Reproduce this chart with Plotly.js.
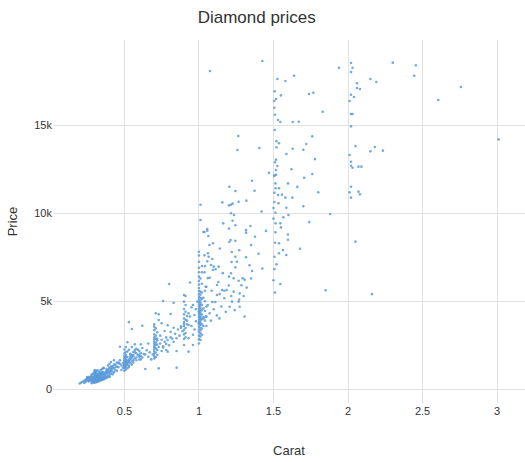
<!DOCTYPE html>
<html>
<head>
<meta charset="utf-8">
<script src="https://cdn.plot.ly/plotly-3.0.1.min.js"></script>
<style>html,body{margin:0;padding:0;background:#fff;}#chart{width:525px;height:462px;}</style>
</head>
<body>
<div id="chart"></div>
<script>
// Small stones (0.2 - 0.47 ct)
const caratSmall = [
0.23,0.23,0.24,0.24,0.25,0.25,0.26,0.26,0.27,0.27,
0.28,0.28,0.28,0.29,0.29,0.29,0.30,0.30,0.30,0.30,
0.30,0.30,0.30,0.31,0.31,0.31,0.31,0.31,0.31,0.32,
0.32,0.32,0.32,0.32,0.33,0.33,0.33,0.33,0.34,0.34,
0.34,0.35,0.35,0.35,0.36,0.36,0.36,0.37,0.37,0.38,
0.38,0.38,0.39,0.39,0.40,0.40,0.40,0.41,0.41,0.42,
0.42,0.43,0.43,0.44,0.45,0.46,0.20,0.21,0.22,0.25,
0.26,0.27,0.28,0.29,0.30,0.31,0.32,0.33,0.34,0.35,
0.30,0.31,0.32,0.30,0.31,0.32,0.33,0.30,0.31,0.34,
0.36,0.37,0.38,0.39,0.40,0.41,0.42,0.43,0.44,0.45,
0.35,0.36,0.37,0.33,0.32,0.31,0.30,0.29,0.28,0.27,
0.26,0.32,0.33,0.34,0.35,0.38,0.40,0.41,0.42,0.47];
const priceSmall = [
370,480,410,560,520,620,450,700,560,640,
480,620,780,420,530,690,420,510,580,650,
720,840,930,470,560,610,680,760,880,520,
590,650,740,860,540,630,700,820,580,690,
800,610,720,900,650,780,980,700,840,720,
880,1060,780,960,760,870,1040,900,1130,850,
1010,960,1180,1080,1050,1260,330,380,430,590,
500,600,700,560,600,700,800,880,920,800,
470,530,590,760,650,690,760,980,1020,860,
1200,900,1000,1110,1240,1300,1180,1400,1250,1520,
560,600,640,660,470,420,450,640,530,480,
560,700,760,740,680,950,980,1050,1320,1650];
const caratSmall2 = [
0.30,0.30,0.30,0.31,0.31,0.31,0.32,0.32,0.33,0.33,
0.34,0.34,0.35,0.35,0.36,0.36,0.37,0.38,0.39,0.40,
0.28,0.29,0.30,0.31,0.32,0.33,0.30,0.31,0.32,0.34,
0.36,0.38,0.40,0.42,0.44,0.45,0.46,0.41,0.43,0.39,
0.27,0.28,0.29,0.30,0.31,0.32,0.26,0.25,0.24,0.33,
0.35,0.37,0.34,0.36,0.38,0.30,0.31,0.32,0.35,0.40];
const priceSmall2 = [
380,1000,1100,400,1050,950,430,1080,460,1000,
500,1100,530,1150,560,1220,620,640,700,700,
350,380,520,600,620,650,860,820,800,950,
880,1150,1450,1250,1400,1300,1500,1550,1650,1350,
700,840,900,660,720,780,620,700,500,560,
650,750,880,900,980,550,500,570,1000,1180];

// Half-carat stones (0.46 - 0.66 ct)
const caratHalf = [
0.50,0.50,0.50,0.50,0.50,0.50,0.50,0.50,0.50,0.50,
0.51,0.51,0.51,0.51,0.51,0.51,0.51,0.51,0.52,0.52,
0.52,0.52,0.52,0.53,0.53,0.53,0.54,0.54,0.54,0.55,
0.55,0.56,0.56,0.56,0.57,0.57,0.58,0.58,0.59,0.60,
0.60,0.61,0.61,0.62,0.63,0.64,0.65,0.66,0.47,0.48,
0.48,0.49,0.49,0.46,0.47,0.53,0.55,0.57,0.61,0.64,
0.50,0.51,0.52,0.54,0.56,0.58,0.60,0.62,0.55,0.53,
0.50,0.50,0.51,0.52,0.53,0.54,0.55,0.56,0.57,0.58,
0.59,0.60,0.61,0.62,0.50,0.51,0.52,0.53,0.54,0.55];
const priceHalf = [
1050,1180,1290,1420,1510,1630,1740,1900,2050,2260,
1120,1250,1380,1560,1700,1850,2120,2400,1200,1460,
1620,1830,2670,1340,1690,3820,1480,1760,2010,1590,
1930,1660,1880,2120,1750,2240,1810,2050,1940,1690,
2170,1880,2560,3610,2000,1150,2220,2600,1450,1100,
1350,1230,1480,1500,2420,1560,3430,2560,1700,1980,
1330,1580,1380,1870,1520,2300,1960,1810,2400,1270,
1350,1800,1450,1550,1600,1700,1400,1950,2100,1650,
2250,1850,2050,2350,1600,1950,2150,2250,2000,1800];

// 0.7 ct group (0.66 - 0.88 ct)
const caratSeven = [
0.70,0.70,0.70,0.70,0.70,0.70,0.70,0.70,0.70,0.70,
0.70,0.70,0.70,0.70,0.71,0.71,0.71,0.71,0.71,0.71,
0.71,0.71,0.72,0.72,0.72,0.72,0.72,0.73,0.73,0.73,
0.74,0.74,0.75,0.75,0.76,0.76,0.77,0.77,0.78,0.78,
0.79,0.79,0.80,0.80,0.81,0.81,0.82,0.83,0.83,0.84,
0.85,0.85,0.86,0.87,0.88,0.69,0.68,0.66,0.67,0.73,
0.71,0.70,0.72,0.76,0.79,0.81,0.83,0.85,0.78,0.75];
const priceSeven = [
1750,1880,2010,2140,2260,2380,2470,2590,2700,2830,
2950,3120,3360,3700,1820,2090,2330,2520,2650,2880,
3050,3460,1950,2240,2550,2780,3240,1190,2400,4260,
2600,3050,2180,3750,2450,5020,2700,3310,2230,2950,
2140,2800,2500,5980,3270,4280,2880,2700,4920,3150,
2180,2900,3400,3050,3580,1980,1700,1850,2100,3940,
4320,3560,2870,2370,3640,2960,3500,1230,2580,2820];

// 0.9 ct group
const caratNine = [
0.90,0.90,0.90,0.90,0.90,0.90,0.90,0.90,0.90,0.90,
0.90,0.91,0.91,0.91,0.91,0.91,0.91,0.92,0.92,0.93,
0.93,0.94,0.95,0.96,0.97,0.98,0.94,0.96,0.98,0.99,
0.89,0.88,0.91,0.92,0.93,0.95,0.97,0.96,0.90,0.93];
const priceNine = [
2520,2860,3120,3380,3600,3820,4020,4260,4560,4980,
5360,2950,3480,3950,4410,4790,5300,3700,4160,2140,
4320,4130,4660,2520,4220,4550,6070,4790,3860,4980,
3300,3500,3200,3900,2900,3600,3400,3100,3720,3650];

// 1 ct group
const caratOne = [
1.00,1.00,1.00,1.00,1.00,1.00,1.00,1.00,1.00,1.00,
1.00,1.00,1.00,1.00,1.00,1.00,1.00,1.00,1.00,1.00,
1.00,1.00,1.00,1.00,1.00,1.00,1.00,1.00,1.00,1.00,
1.01,1.01,1.01,1.01,1.01,1.01,1.01,1.01,1.01,1.01,
1.01,1.01,1.01,1.01,1.01,1.01,1.01,1.01,1.01,1.01,
1.02,1.02,1.02,1.02,1.02,1.02,1.02,1.02,1.02,1.02,
1.03,1.03,1.03,1.03,1.04,1.04,1.04,1.05,1.05,1.05,
1.01,1.02,1.01,1.01,1.03,1.04,1.00,1.01,1.02,1.00];
const priceOne = [
2600,2850,3050,3250,3400,3550,3700,3820,3950,4080,
4200,4330,4450,4580,4700,4820,4950,5100,5250,5400,
5580,5750,5950,6150,6400,6650,6900,7250,7600,7820,
2800,3000,3180,3350,3500,3650,3780,3900,4020,4150,
4280,4400,4530,4650,4780,4900,5050,5200,5380,5550,
3100,3450,3700,3980,4250,4500,4800,5150,5500,6000,
3600,4100,4600,5200,3900,4450,5600,4130,4700,5830,
6300,6650,10490,9620,8940,5000,4400,4050,7000,3750];

// 1.03 - 1.45 ct group
const caratMid = [
1.06,1.065,1.037,1.056,1.081,1.099,1.132,1.112,1.094,1.037,
1.072,1.059,1.045,1.085,1.121,1.139,1.155,1.17,1.186,1.217,
1.202,1.215,1.233,1.244,1.244,1.219,1.255,1.293,1.306,1.266,
1.32,1.273,1.306,1.206,1.222,1.266,1.273,1.121,1.17,1.137,
1.099,1.09,1.059,1.11,1.072,1.045,1.031,1.425,1.356,1.339,
1.316,1.285,1.233,1.204,1.244,1.356,1.373,1.157,1.202,1.215,
1.226,1.266,1.318,1.215,1.235,1.163,1.225,1.244,1.202,1.056,
1.056,1.037,1.063,1.094,1.212,1.244,1.204,1.316,1.316,1.345,
1.376,1.264,1.258,1.405,1.074,1.425,1.05,1.08,1.12,1.15,
1.18,1.24,1.27,1.30,1.35,1.20,1.13,1.16,1.27,1.35,
1.40,1.22,1.14,1.09,1.07,1.04];
const priceMid = [
7730,7530,7610,7270,7060,6970,6970,6820,6780,6650,
6340,6320,5830,5600,5930,5410,5640,5600,5640,5300,
6400,6590,6310,6930,7530,7230,7250,6310,6230,6170,
5780,5450,4130,4690,4980,4980,4690,5360,5170,4030,
4550,4960,4790,4960,4320,4130,4030,6860,6720,7050,
7500,5910,5550,11510,11270,11850,11280,10620,10450,10490,
10550,10660,10720,10000,9900,9430,9580,9320,9130,9110,
9010,8940,8710,8300,8480,8440,8370,9050,8900,9280,
8670,14390,13600,13710,18085,18650,3600,3900,4200,4700,
4400,4500,5100,5300,6300,5900,6100,6600,7900,8200,
7700,7800,8000,7400,8200,7000];

// 1.5 ct group
const caratOneHalf = [
1.508,1.517,1.504,1.506,1.508,1.517,1.526,1.517,1.517,1.506,
1.506,1.513,1.514,1.506,1.506,1.513,1.514,1.513,1.51,1.506,
1.506,1.52,1.537,1.546,1.526,1.58,1.638,1.738,1.767,1.83,
1.629,1.669,1.629,1.587,1.72,1.70,1.76,1.778,1.706,1.76,
1.537,1.597,1.531,1.557,1.58,1.626,1.534,1.586,1.566,1.546,
1.597,1.597,1.537,1.564,1.678,1.537,1.586,1.546,1.88,1.85,
1.50,1.51,1.52,1.50,1.50,1.51,1.52,1.55,1.60,1.62,
1.66,1.70,1.74,1.80,1.45,1.42,1.47,1.55,1.53,1.51];
const priceOneHalf = [
16930,16490,16380,16000,14730,13050,12690,12460,12190,12120,
12160,11700,11420,11170,10640,10030,9430,8920,8330,7530,
6830,13750,13980,15190,17630,17520,17820,16780,16850,15770,
15190,15200,13670,13370,13940,13610,14370,13080,12020,12230,
11420,11700,11040,11060,10890,10890,10570,10320,9770,9430,
8800,8500,8300,7910,7990,7730,7630,5980,9960,5630,
6200,5500,7100,9700,10300,12900,14100,9200,9900,12500,
11500,10400,9500,11200,9000,10100,12300,16700,15300,15600];

// 2 ct and larger
const caratLarge = [
1.939,2.02,2.03,2.02,2.06,2.06,2.08,2.02,2.04,2.01,
2.02,2.03,2.02,2.15,2.19,2.05,2.01,2.02,2.02,2.03,
2.07,2.09,2.15,2.18,2.30,2.455,2.444,2.757,2.605,3.01,
2.234,2.02,2.01,2.07,2.08,2.02,2.05,2.16];
const priceLarge = [
18270,18540,18270,18030,17390,17120,17060,16740,16610,16380,
15640,15640,14940,17630,17460,13820,13310,12930,12700,12590,
12650,12650,13520,13770,18560,18410,17820,17180,16440,14200,
13560,11510,11190,11230,11080,10890,8390,5410];

const carat = [].concat(caratSmall, caratSmall2, caratHalf, caratSeven, caratNine, caratOne, caratMid, caratOneHalf, caratLarge);
const price = [].concat(priceSmall, priceSmall2, priceHalf, priceSeven, priceNine, priceOne, priceMid, priceOneHalf, priceLarge);

const trace = {
  type: 'scatter',
  mode: 'markers',
  x: carat,
  y: price,
  marker: {size: 2.6, color: '#5b9bd9', opacity: 0.85},
  hoverinfo: 'none'
};

const font = "Arial, 'Liberation Sans', sans-serif";
const layout = {
  width: 525,
  height: 462,
  margin: {l: 53, r: 0, t: 40, b: 59},
  paper_bgcolor: '#fff',
  plot_bgcolor: '#fff',
  font: {family: font, color: '#333', size: 12},
  title: {text: 'Diamond prices', x: 0.489, xref: 'container', y: 0.975, yanchor: 'top', font: {family: font, size: 17, color: '#333'}},
  showlegend: false,
  xaxis: {
    title: {text: 'Carat', font: {family: font, size: 13, color: '#333'}, standoff: 29},
    range: [0.021, 3.187],
    dtick: 0.5,
    tick0: 0,
    showgrid: true,
    gridcolor: '#e2e2e2',
    zeroline: false,
    showline: false,
    ticks: '',
    tickfont: {size: 11, color: '#333'}
  },
  yaxis: {
    title: {text: 'Price', font: {family: font, size: 13, color: '#333'}, standoff: 13},
    range: [-778, 19847],
    dtick: 5000,
    tick0: 0,
    tickformat: '~s',
    showgrid: true,
    gridcolor: '#e2e2e2',
    zeroline: false,
    showline: false,
    ticks: '',
    tickfont: {size: 11, color: '#333'}
  }
};

Plotly.newPlot('chart', [trace], layout, {displayModeBar: false, staticPlot: true});
</script>
</body>
</html>
